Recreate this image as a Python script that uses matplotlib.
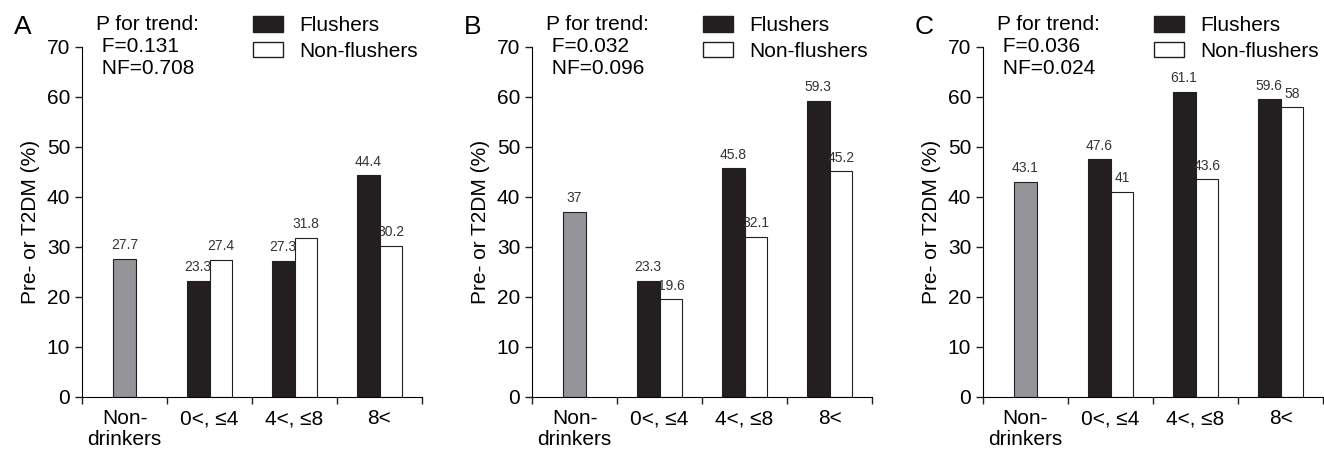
import matplotlib
matplotlib.use("Agg")
import matplotlib.pyplot as plt
import numpy as np
from matplotlib.patches import Patch

plt.rcParams['font.family'] = ['Liberation Sans', 'DejaVu Sans']

categories = ["Non-\ndrinkers", "0<, ≤4", "4<, ≤8", "8<"]
panels = ["A", "B", "C"]
nondrinkers = [27.7, 37.0, 43.1]
flushers = [[23.3, 27.3, 44.4], [23.3, 45.8, 59.3], [47.6, 61.1, 59.6]]
non_flushers = [[27.4, 31.8, 30.2], [19.6, 32.1, 45.2], [41.0, 43.6, 58.0]]
p_f = ["0.131", "0.032", "0.036"]
p_nf = ["0.708", "0.096", "0.024"]

BLACK = "#231f20"
GRAY = "#939598"
FS = 15
VAL = dict(ha="center", va="bottom", fontsize=10, color="#333333")

fig = plt.figure(figsize=(13.24, 4.55), dpi=100)
lefts = [82, 532, 983]
W, H = 1324, 455
w = 0.27

for i, left in enumerate(lefts):
    ax = fig.add_axes([left / W, 1 - 397 / H, 340 / W, 350 / H])
    ax.bar(0, nondrinkers[i], width=w, color=GRAY, edgecolor=BLACK, linewidth=0.8)
    xs = np.arange(1, 4)
    ax.bar(xs - w / 2, flushers[i], width=w, color=BLACK, edgecolor=BLACK, linewidth=0.8)
    ax.bar(xs + w / 2, non_flushers[i], width=w, color="white", edgecolor=BLACK, linewidth=0.8)

    ax.text(0, nondrinkers[i] + 1.3, f"{nondrinkers[i]:g}", **VAL)
    for x, f, nf in zip(xs, flushers[i], non_flushers[i]):
        ax.text(x - w / 2, f + 1.3, f"{f:g}", **VAL)
        ax.text(x + w / 2, nf + 1.3, f"{nf:g}", **VAL)

    ax.set_xlim(-0.5, 3.5)
    ax.set_ylim(0, 70)
    ax.set_yticks(np.arange(0, 71, 10))
    ax.set_xticks(np.arange(-0.5, 3.6, 1))
    ax.set_xticklabels([])
    ax.set_xticks(np.arange(4), minor=True)
    ax.set_xticklabels(categories, minor=True, fontsize=FS, linespacing=1.1)
    ax.tick_params(axis="x", which="minor", length=0, pad=9)
    ax.tick_params(axis="both", which="major", direction="out", length=5, width=1, labelsize=FS, color="#231f20")
    ax.spines["top"].set_visible(False)
    ax.spines["right"].set_visible(False)
    ax.set_ylabel("Pre- or T2DM (%)", fontsize=FS, labelpad=5)

    ax.text(-0.2, 1.09, panels[i], transform=ax.transAxes, fontsize=19, va="top", ha="left")
    ax.text(0.04, 1.09, f"P for trend:\n F={p_f[i]}\n NF={p_nf[i]}", transform=ax.transAxes,
            fontsize=FS, va="top", ha="left", linespacing=1.2)
    handles = [Patch(facecolor=BLACK, edgecolor=BLACK), Patch(facecolor="white", edgecolor=BLACK)]
    ax.legend(handles, ["Flushers", "Non-flushers"], loc="upper left", bbox_to_anchor=(0.503, 1.088),
              frameon=False, fontsize=FS, handlelength=1.45, handleheight=0.75, labelspacing=0.32,
              handletextpad=0.75, borderaxespad=0, borderpad=0)

fig.savefig("out.png", dpi=100)
